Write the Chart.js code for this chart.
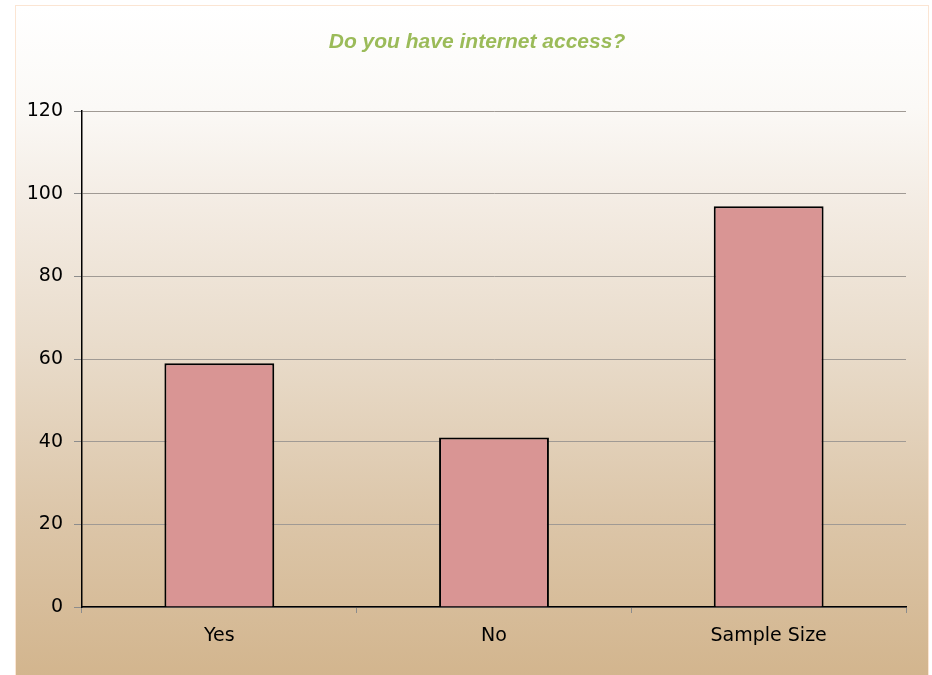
<!DOCTYPE html>
<html>
<head>
    <title>Internet Access</title>
    <script src="https://cdn.jsdelivr.net/npm/chart.js"></script>
    <style>
        body {
            margin: 0;
            background: #ffffff;
        }
        .panel {
            position: absolute;
            left: 15px;
            top: 5px;
            width: 912px;
            height: 680px;
            border: 1px solid #fbe5d3;
            background: linear-gradient(to bottom, #ffffff 0%, #fbf9f6 15%, #f3ebe2 30%, #e9dccb 50%, #dcc6a9 75%, #d2b48c 100%);
        }
        .panel canvas {
            position: absolute;
            left: 0;
            top: 0;
        }
    </style>
</head>
<body>
    <div class="panel">
        <canvas id="accessChart" width="913" height="670"></canvas>
    </div>

    <script>
        const categories = ['Yes', 'No', 'Sample Size'];
        const responses = [59, 41, 97];
        const yTicks = [0, 20, 40, 60, 80, 100, 120];

        // nudge the title box so the heading sits a bit right of the panel middle
        const titleShift = {
            id: 'titleShift',
            afterLayout(chart) {
                if (chart.titleBlock) chart.titleBlock.left = 32;
            }
        };

        new Chart(document.getElementById('accessChart'), {
            type: 'bar',
            data: {
                labels: categories,
                datasets: [{
                    data: responses,
                    backgroundColor: '#d99594',
                    borderColor: '#000000',
                    borderWidth: 2,
                    categoryPercentage: 0.8,
                    barPercentage: 0.5
                }]
            },
            plugins: [titleShift],
            options: {
                responsive: false,
                animation: false,
                layout: {
                    padding: { left: 0, right: 23, top: 0, bottom: 0 }
                },
                plugins: {
                    legend: { display: false },
                    tooltip: { enabled: false },
                    title: {
                        display: true,
                        text: 'Do you have internet access?',
                        color: '#9bbb59',
                        font: { family: 'Liberation Sans, Arial, sans-serif', size: 21, weight: 'bold', style: 'italic' },
                        padding: { top: 24, bottom: 56 }
                    }
                },
                scales: {
                    x: {
                        grid: {
                            drawOnChartArea: false,
                            drawTicks: true,
                            tickLength: 6,
                            color: '#8c8c8c'
                        },
                        border: { color: '#000000', width: 1.5 },
                        ticks: {
                            color: '#000000',
                            padding: 12,
                            font: { family: 'DejaVu Sans, sans-serif', size: 19 }
                        },
                        afterFit: (scale) => { scale.height = 69; }
                    },
                    y: {
                        min: yTicks[0],
                        max: yTicks[yTicks.length - 1],
                        afterBuildTicks: (scale) => {
                            scale.ticks = yTicks.map(v => ({ value: v }));
                        },
                        grid: {
                            color: '#a09a94',
                            tickLength: 8,
                            tickColor: '#8c8c8c'
                        },
                        border: { color: '#000000', width: 1.5 },
                        ticks: {
                            color: '#000000',
                            padding: 11,
                            font: { family: 'DejaVu Sans, sans-serif', size: 19 }
                        },
                        afterFit: (scale) => { scale.width = 66; }
                    }
                }
            }
        });
    </script>
</body>
</html>
